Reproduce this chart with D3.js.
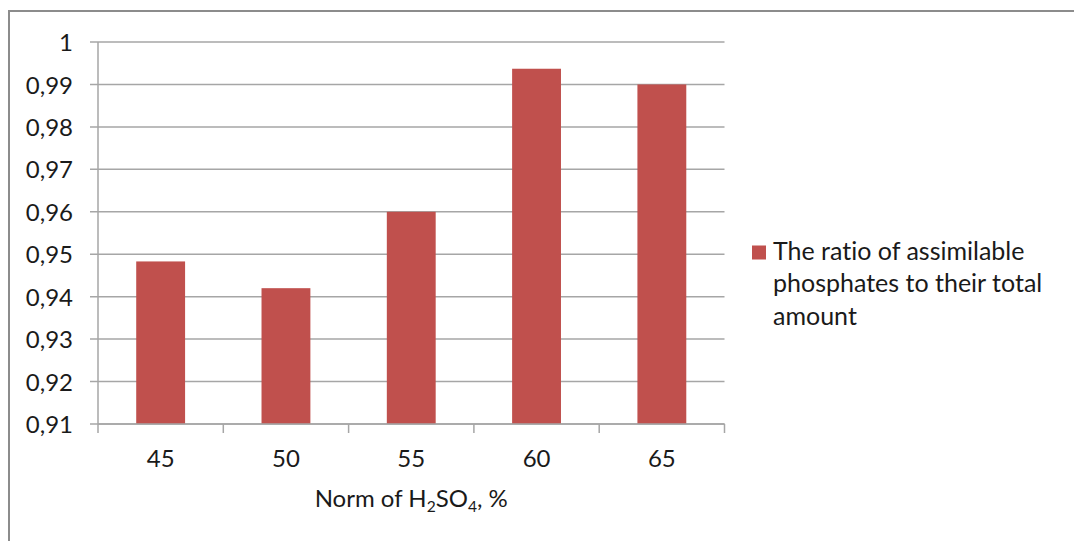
<!DOCTYPE html>
<html>
<head>
<meta charset="utf-8">
<script src="https://cdn.jsdelivr.net/npm/d3@7"></script>
<style>
  html, body { margin: 0; padding: 0; background: #fff; }
  svg { display: block; font-family: Lato, "Open Sans", sans-serif; font-variant-ligatures: none; font-feature-settings: "liga" 0, "clig" 0; }
</style>
</head>
<body>
<svg id="chart" width="1074" height="541"></svg>
<script>
const categories = ["45", "50", "55", "60", "65"];
const values = [0.9483, 0.9420, 0.9600, 0.9937, 0.9900];
const yTicks = [0.91, 0.92, 0.93, 0.94, 0.95, 0.96, 0.97, 0.98, 0.99, 1];
const seriesName = ["The ratio of assimilable", "phosphates to their total", "amount"];

(function () {
const svg = d3.select("#chart");
const pLeft = 98, pRight = 724.5, pTop = 42, pBottom = 424;
const fontSize = 24;
const textColor = "#1a1a1a";

// outer frame (top & left edges visible)
svg.append("line").attr("x1", 9).attr("x2", 1074).attr("y1", 11).attr("y2", 11)
  .attr("stroke", "#8c8c8c").attr("stroke-width", 2);
svg.append("line").attr("x1", 9).attr("x2", 9).attr("y1", 10).attr("y2", 541)
  .attr("stroke", "#8c8c8c").attr("stroke-width", 2);

const x = d3.scaleBand().domain(categories).range([pLeft, pRight]).paddingInner(0).paddingOuter(0);
const y = d3.scaleLinear().domain([0.91, 1]).range([pBottom, pTop]);

// gridlines + left ticks
svg.append("g").selectAll("line").data(yTicks).join("line")
  .attr("x1", pLeft - 8).attr("x2", pRight)
  .attr("y1", d => y(d)).attr("y2", d => y(d))
  .attr("stroke", "#a6a6a6").attr("stroke-width", 1.5);

// y axis labels
const yAxis = d3.axisLeft(y).tickValues(yTicks).tickSize(0).tickPadding(25)
  .tickFormat(d => d === 1 ? "1" : d3.format(".2f")(d).replace(".", ","));
const gy = svg.append("g").attr("transform", `translate(${pLeft},0)`).call(yAxis);
gy.select(".domain").remove();
gy.selectAll("text").attr("font-size", fontSize).attr("fill", textColor)
  .attr("font-family", "Lato, sans-serif").attr("dy", "0.36em");

// y axis line
svg.append("line").attr("x1", pLeft).attr("x2", pLeft).attr("y1", pTop).attr("y2", pBottom)
  .attr("stroke", "#a6a6a6").attr("stroke-width", 1.5);

// bars
const barW = x.bandwidth() * 0.39;
svg.append("g").selectAll("rect").data(values).join("rect")
  .attr("x", (d, i) => x(categories[i]) + (x.bandwidth() - barW) / 2)
  .attr("width", barW)
  .attr("y", d => y(d))
  .attr("height", d => y(0.91) - y(d))
  .attr("fill", "#C0504D");

// x axis line and boundary ticks
svg.append("line").attr("x1", pLeft).attr("x2", pRight).attr("y1", pBottom).attr("y2", pBottom)
  .attr("stroke", "#a6a6a6").attr("stroke-width", 1.5);
const bounds = categories.map(c => x(c)).concat([x.range()[1]]);
svg.append("g").selectAll("line").data(bounds).join("line")
  .attr("x1", d => d).attr("x2", d => d).attr("y1", pBottom).attr("y2", pBottom + 9)
  .attr("stroke", "#a6a6a6").attr("stroke-width", 1.5);

// x labels
const xAxis = d3.axisBottom(x).tickSize(0);
const gx = svg.append("g").attr("transform", `translate(0,${pBottom})`).call(xAxis);
gx.select(".domain").remove();
gx.selectAll("text").attr("font-size", fontSize).attr("fill", textColor)
  .attr("font-family", "Lato, sans-serif").attr("dy", "0").attr("y", 43);

// x title
const title = svg.append("text").attr("x", (pLeft + pRight) / 2).attr("y", 507)
  .attr("text-anchor", "middle").attr("font-size", fontSize).attr("fill", textColor);
title.append("tspan").text("Norm of H");
title.append("tspan").text("2").attr("font-size", fontSize * 0.65).attr("dy", 5);
title.append("tspan").text("SO").attr("dy", -5);
title.append("tspan").text("4").attr("font-size", fontSize * 0.65).attr("dy", 5);
title.append("tspan").text(", %").attr("dy", -5);

// legend
svg.append("rect").attr("x", 752).attr("y", 245.5).attr("width", 14).attr("height", 14).attr("fill", "#C0504D");
const lg = svg.append("text").attr("font-size", 25).attr("fill", textColor);
seriesName.forEach((t, i) => {
  lg.append("tspan").attr("x", 773).attr("y", 259.5 + i * 32.5).text(t);
});
})();
</script>
</body>
</html>
